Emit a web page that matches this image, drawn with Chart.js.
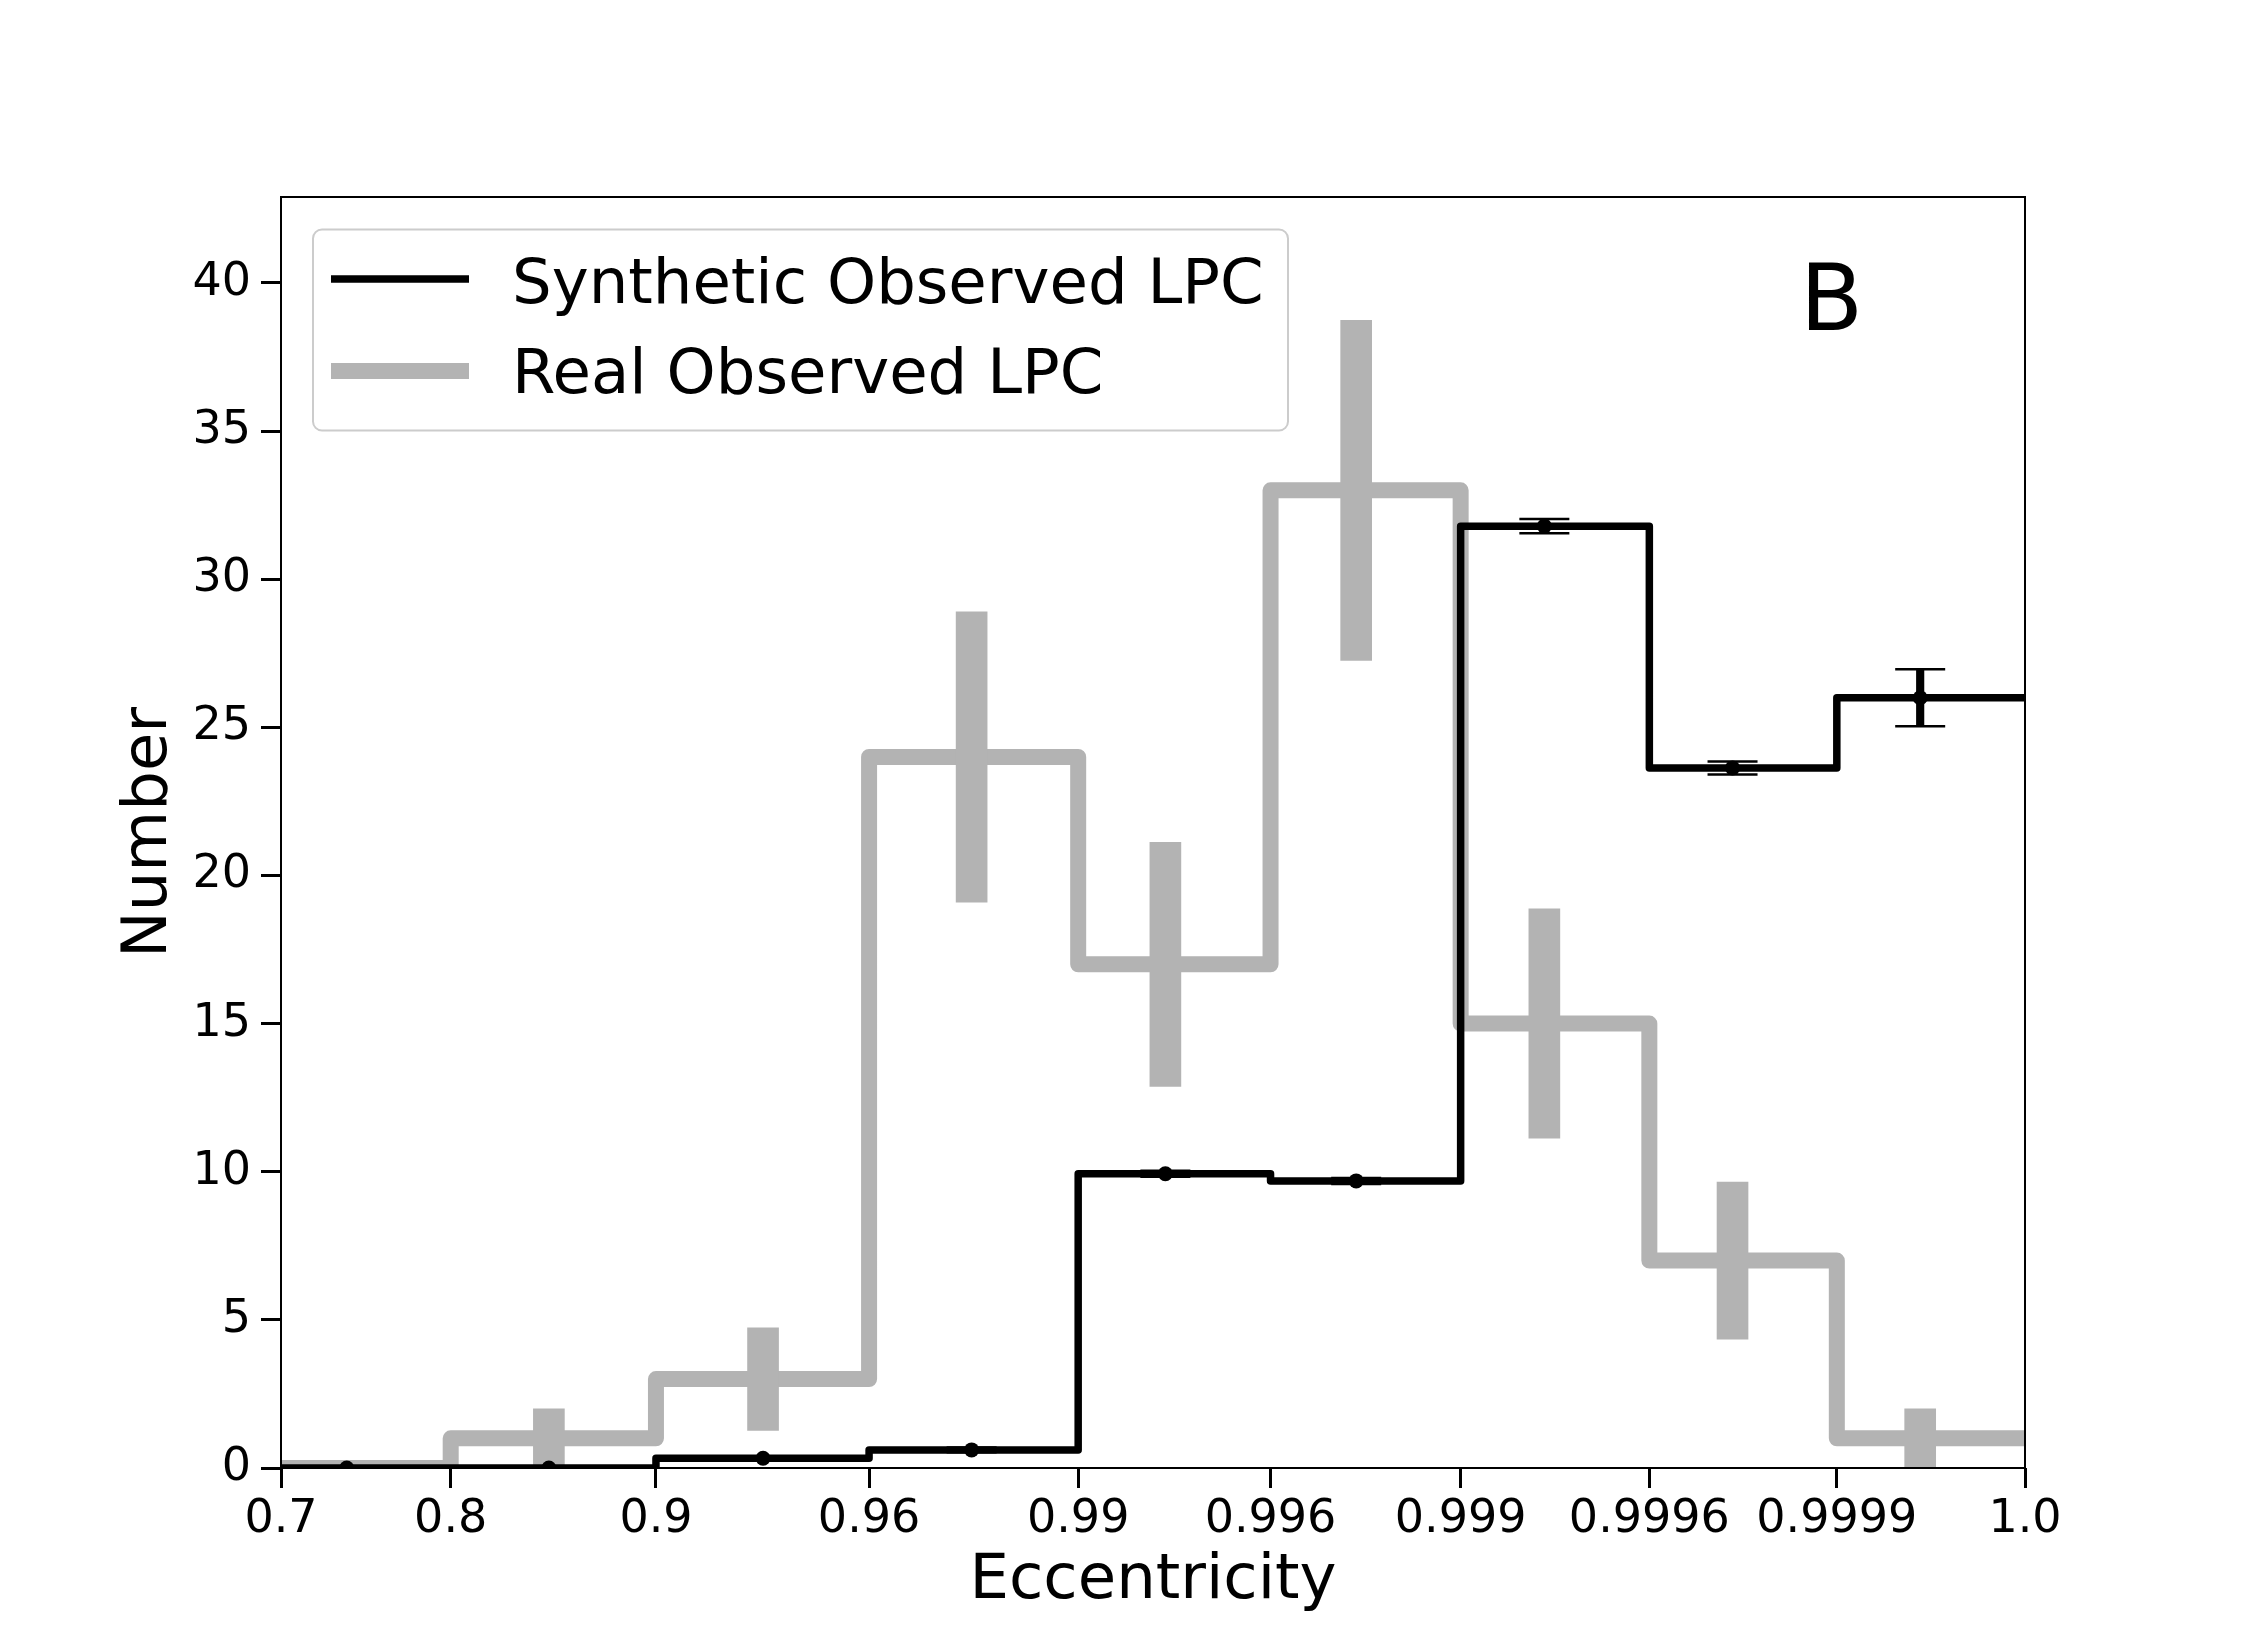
<!DOCTYPE html>
<html><head><meta charset="utf-8">
<script src="https://cdn.jsdelivr.net/npm/chart.js@4/dist/chart.umd.min.js"></script>
<style>html,body{margin:0;padding:0;background:#fff}#wrap{width:2250px;height:1650px}</style>
</head><body><div id="wrap"><canvas id="c" width="2250" height="1650"></canvas></div>
<script>
// ---- data ----
const tickLabels = ['0.7','0.8','0.9','0.96','0.99','0.996','0.999','0.9996','0.9999','1.0'];
// axis coordinate of each tick / bin edge (the axis is stretched, 0..1000)
const tickPos = [0, 97.3, 215.0, 337.2, 457.1, 567.4, 676.4, 784.6, 892.1, 1000];
const yTicks = [0, 5, 10, 15, 20, 25, 30, 35, 40];
const yMax = 42.9;
// axis coordinate where each bin's error bar is drawn
const binCenters = [37.7, 153.6, 276.4, 396.0, 507.1, 616.5, 724.4, 832.3, 939.9];
const syntheticCounts = [0, 0, 0.33, 0.61, 9.93, 9.69, 31.79, 23.63, 26.0];
const syntheticErr = [0, 0, 0.05, 0.08, 0.1, 0.1, 0.24, 0.22, 0.96];
const realCounts = [0, 1, 3, 24, 17, 33, 15, 7, 1];
const realErr = [0, 1.0, 1.73, 4.9, 4.12, 5.74, 3.87, 2.65, 1.0];
const seriesNames = ['Synthetic Observed LPC', 'Real Observed LPC'];
const panelLabel = 'B';
const xTitle = 'Eccentricity';
const yTitle = 'Number';

const BLACK = '#000000', GRAY = '#b3b3b3';
const FONT = 'DejaVu Sans';
Chart.defaults.font.family = FONT;
Chart.defaults.color = '#000';

function stepPoints(vals) {
  const pts = vals.map((v, i) => ({x: tickPos[i], y: v}));
  pts.push({x: tickPos[tickPos.length - 1], y: vals[vals.length - 1]});
  return pts;
}
function errBars(vals, errs) {
  return binCenters.map((x, i) => ({x: x, y: [vals[i] - errs[i], vals[i] + errs[i]]}));
}
function capPoints(vals, errs) {
  const pts = [];
  binCenters.forEach((x, i) => { pts.push({x: x, y: vals[i] + errs[i]}); pts.push({x: x, y: vals[i] - errs[i]}); });
  return pts;
}

const framePlugin = {
  id: 'frame',
  afterDatasetsDraw(chart) {
    const {ctx, chartArea: a} = chart;
    ctx.save();
    ctx.strokeStyle = '#000'; ctx.lineWidth = 2;
    ctx.strokeRect(a.left, a.top, a.right - a.left, a.bottom - a.top);
    ctx.restore();
  }
};

const legendPlugin = {
  id: 'boxLegend',
  afterDraw(chart) {
    const {ctx, chartArea: a} = chart;
    const ds = chart.data.datasets.filter(d => d.label);
    const bx = a.left + 32, by = a.top + 32.5, bw = 975, bh = 201;
    ctx.save();
    ctx.beginPath();
    ctx.roundRect(bx, by, bw, bh, 9);
    ctx.fillStyle = 'rgba(255,255,255,0.9)';
    ctx.fill();
    ctx.strokeStyle = '#cccccc'; ctx.lineWidth = 2;
    ctx.stroke();
    const rows = [{lineY: by + 49.5, baseY: by + 73.2}, {lineY: by + 141.5, baseY: by + 163.5}];
    ds.forEach((d, i) => {
      const r = rows[i];
      ctx.beginPath();
      ctx.lineCap = 'butt';
      ctx.strokeStyle = d.borderColor; ctx.lineWidth = d.borderWidth;
      ctx.moveTo(bx + 18, r.lineY); ctx.lineTo(bx + 156, r.lineY);
      ctx.stroke();
      ctx.fillStyle = '#000';
      ctx.font = '62.5px "' + FONT + '"';
      ctx.textBaseline = 'alphabetic'; ctx.textAlign = 'left';
      ctx.fillText(d.label, bx + 199, r.baseY);
    });
    ctx.font = '92px "' + FONT + '"';
    ctx.fillStyle = '#000';
    ctx.textBaseline = 'alphabetic';
    ctx.fillText(panelLabel, a.right - 225, a.top + 133);
    ctx.restore();
  }
};

const chart = new Chart(document.getElementById('c'), {
  type: 'line',
  data: {
    datasets: [
      {type: 'line', label: seriesNames[0], data: stepPoints(syntheticCounts), stepped: 'before',
       borderColor: BLACK, borderWidth: 7.5, pointRadius: 0, borderJoinStyle: 'round', borderCapStyle: 'butt',
       fill: false, clip: 0, order: 3},
      {type: 'line', label: seriesNames[1], data: stepPoints(realCounts), stepped: 'before',
       borderColor: GRAY, borderWidth: 16, pointRadius: 0, borderJoinStyle: 'round', borderCapStyle: 'butt',
       fill: false, clip: 0, order: 6},
      {type: 'bar', data: errBars(realCounts, realErr), backgroundColor: GRAY, borderWidth: 0,
       barThickness: 31, grouped: false, clip: 0, order: 5},
      {type: 'bar', data: errBars(syntheticCounts, syntheticErr), backgroundColor: BLACK, borderWidth: 0,
       barThickness: 7.5, grouped: false, clip: 0, order: 2},
      {type: 'line', data: capPoints(syntheticCounts, syntheticErr), showLine: false, pointStyle: 'line',
       pointRadius: 25, pointBorderWidth: 2.5, pointBorderColor: BLACK, pointBackgroundColor: BLACK,
       pointHoverRadius: 25, clip: 0, order: 1},
      {type: 'line', data: binCenters.map((x, i) => ({x: x, y: syntheticCounts[i]})), showLine: false,
       pointStyle: 'circle', pointRadius: 7.5, pointBorderWidth: 0, pointBackgroundColor: BLACK,
       pointBorderColor: BLACK, clip: 0, order: 0}
    ]
  },
  options: {
    responsive: false, animation: false, devicePixelRatio: 1,
    events: [],
    layout: {padding: {left: 0, top: 197, right: 225, bottom: 0}},
    plugins: {legend: {display: false}, tooltip: {enabled: false}},
    scales: {
      x: {
        type: 'linear', min: tickPos[0], max: tickPos[tickPos.length - 1], offset: false,
        afterBuildTicks: s => { s.ticks = tickPos.map(v => ({value: v})); },
        afterFit: s => { s.height = 182; },
        ticks: {autoSkip: false, maxRotation: 0, minRotation: 0, padding: 4, color: '#000',
                font: {size: 46}, callback: (v, i) => tickLabels[i]},
        grid: {display: true, offset: false, drawOnChartArea: false, drawTicks: true, tickLength: 20, tickWidth: 3, tickColor: '#000'},
        border: {display: false},
        title: {display: true, text: xTitle, color: '#000', font: {size: 62.5}, padding: {top: 0, bottom: 31}}
      },
      y: {
        type: 'linear', min: 0, max: yMax,
        afterBuildTicks: s => { s.ticks = yTicks.map(v => ({value: v})); },
        afterFit: s => { s.width = 281; },
        ticks: {padding: 10, color: '#000', font: {size: 46}, callback: v => String(v)},
        grid: {display: true, offset: false, drawOnChartArea: false, drawTicks: true, tickLength: 20, tickWidth: 3, tickColor: '#000'},
        border: {display: false},
        title: {display: true, text: yTitle, color: '#000', font: {size: 62.5}, padding: {top: 112, bottom: 0}}
      }
    }
  },
  plugins: [framePlugin, legendPlugin]
});
</script></body></html>
